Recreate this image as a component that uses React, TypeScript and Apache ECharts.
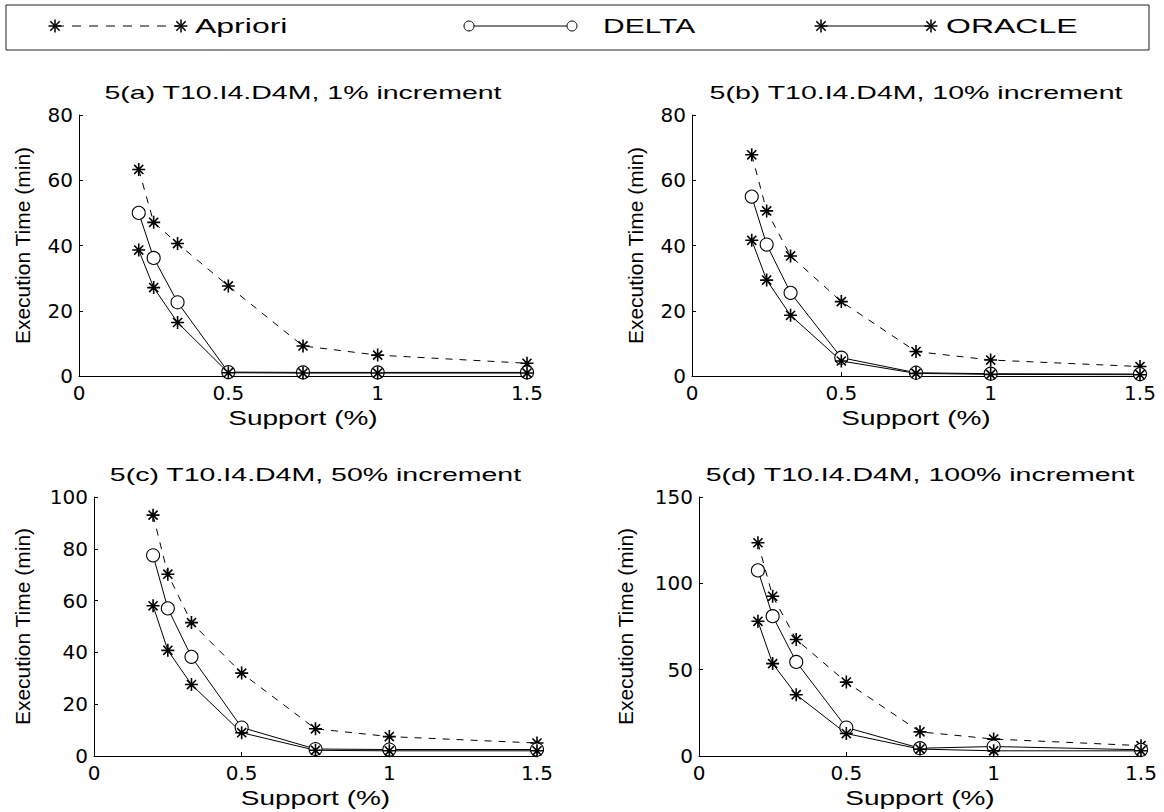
import React, { useEffect, useRef } from "react";
import * as echarts from "echarts";

// ---- data ----
const supportX = [0.2, 0.25, 0.33, 0.5, 0.75, 1, 1.5];

const aprioriA = [63.3, 47.1, 40.6, 27.6, 9.2, 6.4, 3.9];
const deltaA = [50.0, 36.2, 22.6, 1.2, 1.1, 1.1, 1.1];
const oracleA = [38.6, 27.1, 16.4, 1.0, 0.9, 0.9, 0.9];

const aprioriB = [67.8, 50.6, 36.8, 22.8, 7.5, 4.9, 2.9];
const deltaB = [55.0, 40.3, 25.5, 5.6, 1.0, 0.7, 0.6];
const oracleB = [41.6, 29.4, 18.6, 4.6, 0.8, 0.5, 0.4];

const aprioriC = [93.0, 70.2, 51.5, 32.0, 10.5, 7.5, 5.0];
const deltaC = [77.5, 57.0, 38.3, 11.0, 2.7, 2.5, 2.5];
const oracleC = [58.0, 40.8, 27.6, 9.0, 2.2, 2.0, 2.0];

const aprioriD = [123.5, 92.5, 67.5, 42.8, 14.0, 9.8, 6.0];
const deltaD = [107.5, 81.0, 54.5, 16.5, 4.5, 5.5, 3.6];
const oracleD = [78.0, 53.5, 35.5, 13.0, 4.0, 3.0, 3.0];

const panelTitles = [
  "5(a) T10.I4.D4M, 1% increment",
  "5(b) T10.I4.D4M, 10% increment",
  "5(c) T10.I4.D4M, 50% increment",
  "5(d) T10.I4.D4M, 100% increment",
];
const yMaxes = [80, 80, 100, 150];
const yIntervals = [20, 20, 20, 50];
const xMin = 0;
const xMax = 1.5;
const xInterval = 0.5;
const legendNames = ["Apriori", "DELTA", "ORACLE"];
const xAxisTitle = "Support (%)";
const yAxisTitle = "Execution Time (min)";

const panelData = [
  [aprioriA, deltaA, oracleA],
  [aprioriB, deltaB, oracleB],
  [aprioriC, deltaC, oracleC],
  [aprioriD, deltaD, oracleD],
];

// ---- layout ----
const grids = [
  { left: 79, top: 115, width: 448, height: 261 },
  { left: 692, top: 115, width: 448, height: 261 },
  { left: 94, top: 497, width: 443, height: 259 },
  { left: 699, top: 497, width: 442, height: 259 },
];
const yTitleX = [22, 635, 22, 625];

const ASTERISK = "path://M0 6L12 6M6 0L6 12M1.8 1.8L10.2 10.2M10.2 1.8L1.8 10.2";
const FONT = "Liberation Sans, Arial, Helvetica, sans-serif";
const TICK_FONT = "DejaVu Sans, Liberation Sans, sans-serif";

function asterisk(cx: number, cy: number, r = 6.5) {
  const d = r * 0.72;
  const st = { stroke: "#000", lineWidth: 1.5 };
  return [
    { type: "line", shape: { x1: cx - r, y1: cy, x2: cx + r, y2: cy }, style: st },
    { type: "line", shape: { x1: cx, y1: cy - r, x2: cx, y2: cy + r }, style: st },
    { type: "line", shape: { x1: cx - d, y1: cy - d, x2: cx + d, y2: cy + d }, style: st },
    { type: "line", shape: { x1: cx + d, y1: cy - d, x2: cx - d, y2: cy + d }, style: st },
  ];
}

function stretchedText(text: string, x: number, y: number, fontSize: number, scaleX: number, align = "center", rotation = 0, scaleY = 1) {
  return {
    type: "text",
    x,
    y,
    rotation,
    scaleX,
    scaleY,
    silent: true,
    style: {
      text,
      fontSize,
      fontFamily: FONT,
      fill: "#000",
      align,
      verticalAlign: "middle",
      textAlign: align,
      textVerticalAlign: "middle",
    },
  };
}

function buildOption() {
  const xAxes: any[] = [];
  const yAxes: any[] = [];
  const series: any[] = [];
  const graphic: any[] = [];

  grids.forEach((g, i) => {
    xAxes.push({
      type: "value",
      gridIndex: i,
      min: xMin,
      max: xMax,
      interval: xInterval,
      axisLine: { show: true, onZero: false, lineStyle: { color: "#000", width: 1 } },
      axisTick: { show: true, inside: true, length: 4, lineStyle: { color: "#000" } },
      axisLabel: { color: "#000", fontSize: 20, fontFamily: TICK_FONT, margin: 7 },
      splitLine: { show: false },
    });
    yAxes.push({
      type: "value",
      gridIndex: i,
      min: 0,
      max: yMaxes[i],
      interval: yIntervals[i],
      axisLine: { show: true, onZero: false, lineStyle: { color: "#000", width: 1 } },
      axisTick: { show: true, inside: true, length: 4, lineStyle: { color: "#000" } },
      axisLabel: { color: "#000", fontSize: 20, fontFamily: TICK_FONT, margin: 6 },
      splitLine: { show: false },
    });

    const [ap, de, or] = panelData[i];
    series.push({
      type: "line",
      name: legendNames[0],
      xAxisIndex: i,
      yAxisIndex: i,
      data: supportX.map((x, k) => [x, ap[k]]),
      symbol: ASTERISK,
      symbolSize: 13,
      lineStyle: { color: "#000", width: 1, type: [7, 7] },
      itemStyle: { color: "#000", borderColor: "#000", borderWidth: 1.6 },
      emphasis: { disabled: true },
      silent: true,
    });
    series.push({
      type: "line",
      name: legendNames[1],
      xAxisIndex: i,
      yAxisIndex: i,
      data: supportX.map((x, k) => [x, de[k]]),
      symbol: "circle",
      symbolSize: 13,
      lineStyle: { color: "#000", width: 1 },
      itemStyle: { color: "#fff", borderColor: "#000", borderWidth: 1.1 },
      emphasis: { disabled: true },
      silent: true,
    });
    series.push({
      type: "line",
      name: legendNames[2],
      xAxisIndex: i,
      yAxisIndex: i,
      data: supportX.map((x, k) => [x, or[k]]),
      symbol: ASTERISK,
      symbolSize: 13,
      lineStyle: { color: "#000", width: 1 },
      itemStyle: { color: "#000", borderColor: "#000", borderWidth: 1.6 },
      emphasis: { disabled: true },
      silent: true,
    });

    const cx = g.left + g.width / 2;
    const titleY = g.top - 23;
    graphic.push(stretchedText(panelTitles[i], cx, titleY, 19, 1.5));
    graphic.push(stretchedText(xAxisTitle, cx, g.top + g.height + 42, 20, 1.4));
    graphic.push(stretchedText(yAxisTitle, yTitleX[i], g.top + g.height / 2, 21, 1, "center", Math.PI / 2));
  });

  // legend box
  graphic.push({
    type: "rect",
    shape: { x: 6, y: 5, width: 1143, height: 45 },
    style: { fill: "none", stroke: "#222", lineWidth: 1 },
    silent: true,
  });
  const ly = 26;
  // Apriori
  graphic.push({
    type: "line",
    shape: { x1: 55, y1: ly, x2: 181, y2: ly },
    style: { stroke: "#000", lineWidth: 1, lineDash: [9, 8] },
  });
  asterisk(55, ly).forEach((e) => graphic.push(e));
  asterisk(181, ly).forEach((e) => graphic.push(e));
  graphic.push(stretchedText(legendNames[0], 195, ly, 20, 1.6, "left"));
  // DELTA
  graphic.push({
    type: "line",
    shape: { x1: 469, y1: ly, x2: 572, y2: ly },
    style: { stroke: "#000", lineWidth: 1 },
  });
  graphic.push({ type: "circle", shape: { cx: 469, cy: ly, r: 5 }, style: { fill: "#fff", stroke: "#000", lineWidth: 1 } });
  graphic.push({ type: "circle", shape: { cx: 572, cy: ly, r: 5 }, style: { fill: "#fff", stroke: "#000", lineWidth: 1 } });
  graphic.push(stretchedText(legendNames[1], 603, ly, 20, 1.5, "left"));
  // ORACLE
  graphic.push({
    type: "line",
    shape: { x1: 821, y1: ly, x2: 931, y2: ly },
    style: { stroke: "#000", lineWidth: 1 },
  });
  asterisk(821, ly).forEach((e) => graphic.push(e));
  asterisk(931, ly).forEach((e) => graphic.push(e));
  graphic.push(stretchedText(legendNames[2], 946, ly, 20, 1.6, "left"));

  return {
    animation: false,
    backgroundColor: "#fff",
    grid: grids.map((g) => ({ ...g, containLabel: false })),
    xAxis: xAxes,
    yAxis: yAxes,
    series,
    graphic,
  };
}

export default function App() {
  const ref = useRef<HTMLDivElement>(null);
  useEffect(() => {
    if (!ref.current) return;
    const chart = echarts.init(ref.current, undefined, { renderer: "svg" });
    chart.setOption(buildOption() as any);
    return () => chart.dispose();
  }, []);
  return (
    <div
      ref={ref}
      style={{ position: "fixed", left: 0, top: 0, width: 1164, height: 812, background: "#fff" }}
    />
  );
}
